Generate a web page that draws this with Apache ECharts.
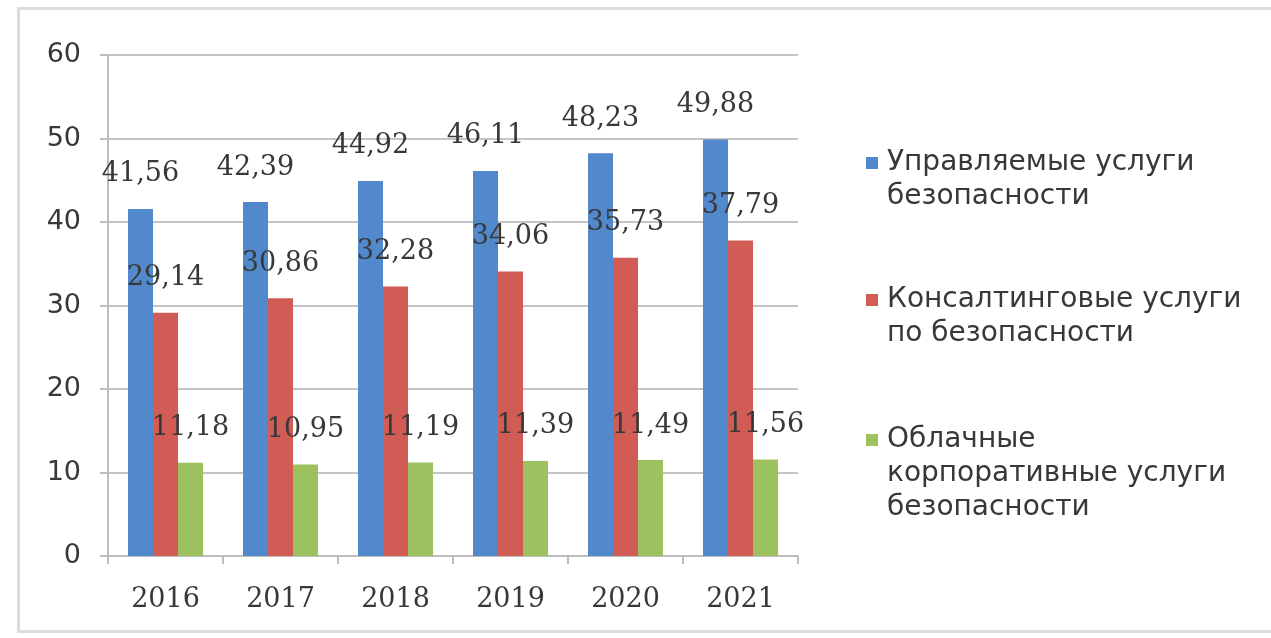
<!DOCTYPE html>
<html>
<head>
<meta charset="utf-8">
<script src="https://cdn.jsdelivr.net/npm/echarts@6/dist/echarts.min.js"></script>
<style>
  html, body { margin: 0; padding: 0; background: #fff; }
  #frame { position: absolute; left: 17px; top: 7px; width: 1260px; height: 626px; border: 3px solid #dcdcdc; box-sizing: border-box; }
  #chart { position: absolute; left: 0; top: 0; width: 1271px; height: 638px; }
</style>
</head>
<body>
<div id="frame"></div>
<div id="chart"></div>
<script>
const categories = ['2016', '2017', '2018', '2019', '2020', '2021'];
const managedValues = [41.56, 42.39, 44.92, 46.11, 48.23, 49.88];
const consultingValues = [29.14, 30.86, 32.28, 34.06, 35.73, 37.79];
const cloudValues = [11.18, 10.95, 11.19, 11.39, 11.49, 11.56];
const seriesNames = [
  'Управляемые услуги безопасности',
  'Консалтинговые услуги по безопасности',
  'Облачные корпоративные услуги безопасности'
];
const legendLines = [
  ['Управляемые услуги', 'безопасности'],
  ['Консалтинговые услуги', 'по безопасности'],
  ['Облачные', 'корпоративные услуги', 'безопасности']
];
const yTicks = [0, 10, 20, 30, 40, 50, 60];

const colors = ['#5189CC', '#D05C55', '#9CC15E'];
const values = [managedValues, consultingValues, cloudValues];

const chart = echarts.init(document.getElementById('chart'));

const labelStyle = {
  show: true,
  position: 'top',
  distance: 21,
  fontFamily: 'DejaVu Serif',
  fontSize: 27,
  color: '#383838',
  formatter: p => p.value.toFixed(2).replace('.', ',')
};

const legendTops = [141, 278, 418];
const lineH = 34;
const legends = seriesNames.map((name, i) => {
  const n = legendLines[i].length;
  const H = n * lineH - 22;
  const iconPath = 'path://M0,0h12v12h-12zM0,' + H + 'h0.01v0.01h-0.01z';
  return {
    data: [{ name: name, icon: iconPath }],
    orient: 'vertical',
    left: 861,
    top: legendTops[i],
    itemWidth: 12,
    itemHeight: H,
    selectedMode: false,
    formatter: () => legendLines[i].join('\n'),
    textStyle: {
      fontFamily: 'DejaVu Sans',
      fontSize: 28,
      color: '#383838',
      lineHeight: lineH,
      padding: [0, 0, 0, 4]
    }
  };
});

chart.setOption({
  animation: false,
  backgroundColor: 'transparent',
  grid: { left: 108, right: 473, top: 55, bottom: 82 },
  legend: legends,
  xAxis: {
    type: 'category',
    data: categories,
    axisLine: { show: true, lineStyle: { color: '#bdbdbd', width: 2 } },
    axisTick: { show: true, length: 8, alignWithLabel: false, lineStyle: { color: '#bdbdbd', width: 2 } },
    axisLabel: { fontFamily: 'DejaVu Serif', fontSize: 27, color: '#383838', margin: 30 }
  },
  yAxis: {
    type: 'value',
    min: yTicks[0],
    max: yTicks[yTicks.length - 1],
    interval: 10,
    axisLine: { show: true, lineStyle: { color: '#bdbdbd', width: 2 } },
    axisTick: { show: true, length: 8, lineStyle: { color: '#bdbdbd', width: 2 } },
    splitLine: { show: true, lineStyle: { color: '#c4c4c4', width: 2 } },
    axisLabel: { fontFamily: 'DejaVu Sans', fontSize: 27, color: '#383838', margin: 27 }
  },
  series: seriesNames.map((name, i) => ({
    name: name,
    type: 'bar',
    data: values[i],
    barWidth: 25,
    barGap: '0%',
    itemStyle: { color: colors[i] },
    label: labelStyle,
    z: 2
  }))
});
</script>
</body>
</html>
